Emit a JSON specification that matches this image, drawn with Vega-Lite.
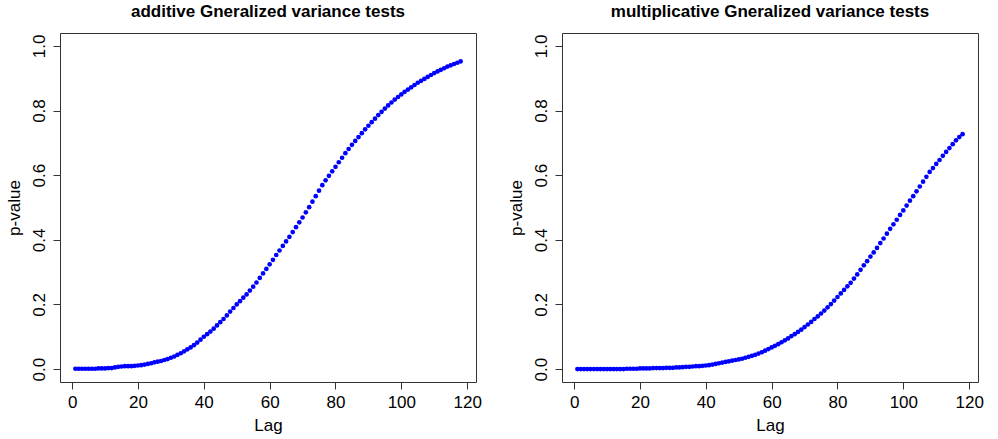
{
  "$schema": "https://vega.github.io/schema/vega-lite/v6.json",
  "background": "white",
  "padding": {"left": 4, "top": 2, "right": 5, "bottom": 4},
  "bounds": "flush",
  "spacing": 86,
  "config": {
    "font": "Liberation Sans",
    "view": {"stroke": "#333333", "strokeWidth": 1},
    "title": {"fontSize": 17, "fontWeight": "bold", "color": "black", "anchor": "middle", "offset": 12, "font": "Liberation Sans"},
    "axis": {
      "domain": false, "grid": false, "tickSize": 7, "tickColor": "#333333",
      "labelColor": "black", "labelFontSize": 17, "labelFont": "Liberation Sans",
      "titleColor": "black", "titleFontSize": 17, "titleFontWeight": "normal", "titleFont": "Liberation Sans",
      "labelPadding": 5, "titlePadding": 7
    },
    "axisY": {"labelAngle": 270, "labelAlign": "center", "labelBaseline": "bottom"}
  },
  "datasets": {
    "additive": [
      {"lag":1,"p":0.001},{"lag":2,"p":0.001},{"lag":3,"p":0.001},{"lag":4,"p":0.001},{"lag":5,"p":0.001},{"lag":6,"p":0.001},{"lag":7,"p":0.001},{"lag":8,"p":0.002},{"lag":9,"p":0.002},{"lag":10,"p":0.002},
      {"lag":11,"p":0.003},{"lag":12,"p":0.003},{"lag":13,"p":0.005},{"lag":14,"p":0.007},{"lag":15,"p":0.008},{"lag":16,"p":0.009},{"lag":17,"p":0.009},{"lag":18,"p":0.009},{"lag":19,"p":0.010},{"lag":20,"p":0.011},
      {"lag":21,"p":0.012},{"lag":22,"p":0.014},{"lag":23,"p":0.016},{"lag":24,"p":0.018},{"lag":25,"p":0.021},{"lag":26,"p":0.023},{"lag":27,"p":0.025},{"lag":28,"p":0.028},{"lag":29,"p":0.031},{"lag":30,"p":0.035},
      {"lag":31,"p":0.039},{"lag":32,"p":0.044},{"lag":33,"p":0.049},{"lag":34,"p":0.055},{"lag":35,"p":0.061},{"lag":36,"p":0.067},{"lag":37,"p":0.074},{"lag":38,"p":0.082},{"lag":39,"p":0.091},{"lag":40,"p":0.100},
      {"lag":41,"p":0.108},{"lag":42,"p":0.116},{"lag":43,"p":0.125},{"lag":44,"p":0.135},{"lag":45,"p":0.145},{"lag":46,"p":0.155},{"lag":47,"p":0.166},{"lag":48,"p":0.178},{"lag":49,"p":0.189},{"lag":50,"p":0.200},
      {"lag":51,"p":0.210},{"lag":52,"p":0.221},{"lag":53,"p":0.231},{"lag":54,"p":0.243},{"lag":55,"p":0.255},{"lag":56,"p":0.268},{"lag":57,"p":0.282},{"lag":58,"p":0.296},{"lag":59,"p":0.310},{"lag":60,"p":0.324},
      {"lag":61,"p":0.338},{"lag":62,"p":0.353},{"lag":63,"p":0.367},{"lag":64,"p":0.381},{"lag":65,"p":0.395},{"lag":66,"p":0.409},{"lag":67,"p":0.424},{"lag":68,"p":0.439},{"lag":69,"p":0.454},{"lag":70,"p":0.469},
      {"lag":71,"p":0.485},{"lag":72,"p":0.501},{"lag":73,"p":0.518},{"lag":74,"p":0.535},{"lag":75,"p":0.552},{"lag":76,"p":0.569},{"lag":77,"p":0.584},{"lag":78,"p":0.598},{"lag":79,"p":0.612},{"lag":80,"p":0.626},
      {"lag":81,"p":0.640},{"lag":82,"p":0.654},{"lag":83,"p":0.668},{"lag":84,"p":0.681},{"lag":85,"p":0.694},{"lag":86,"p":0.706},{"lag":87,"p":0.718},{"lag":88,"p":0.730},{"lag":89,"p":0.742},{"lag":90,"p":0.753},
      {"lag":91,"p":0.764},{"lag":92,"p":0.775},{"lag":93,"p":0.786},{"lag":94,"p":0.796},{"lag":95,"p":0.806},{"lag":96,"p":0.816},{"lag":97,"p":0.825},{"lag":98,"p":0.834},{"lag":99,"p":0.842},{"lag":100,"p":0.850},
      {"lag":101,"p":0.858},{"lag":102,"p":0.865},{"lag":103,"p":0.872},{"lag":104,"p":0.879},{"lag":105,"p":0.886},{"lag":106,"p":0.892},{"lag":107,"p":0.898},{"lag":108,"p":0.904},{"lag":109,"p":0.910},{"lag":110,"p":0.916},
      {"lag":111,"p":0.921},{"lag":112,"p":0.926},{"lag":113,"p":0.931},{"lag":114,"p":0.936},{"lag":115,"p":0.940},{"lag":116,"p":0.944},{"lag":117,"p":0.948},{"lag":118,"p":0.952}
    ],
    "multiplicative": [
      {"lag":1,"p":0.000},{"lag":2,"p":0.000},{"lag":3,"p":0.000},{"lag":4,"p":0.000},{"lag":5,"p":0.000},{"lag":6,"p":0.000},{"lag":7,"p":0.000},{"lag":8,"p":0.000},{"lag":9,"p":0.000},{"lag":10,"p":0.000},
      {"lag":11,"p":0.000},{"lag":12,"p":0.000},{"lag":13,"p":0.000},{"lag":14,"p":0.000},{"lag":15,"p":0.000},{"lag":16,"p":0.001},{"lag":17,"p":0.001},{"lag":18,"p":0.001},{"lag":19,"p":0.001},{"lag":20,"p":0.002},
      {"lag":21,"p":0.002},{"lag":22,"p":0.002},{"lag":23,"p":0.002},{"lag":24,"p":0.003},{"lag":25,"p":0.003},{"lag":26,"p":0.003},{"lag":27,"p":0.003},{"lag":28,"p":0.004},{"lag":29,"p":0.004},{"lag":30,"p":0.004},
      {"lag":31,"p":0.005},{"lag":32,"p":0.005},{"lag":33,"p":0.006},{"lag":34,"p":0.007},{"lag":35,"p":0.007},{"lag":36,"p":0.008},{"lag":37,"p":0.009},{"lag":38,"p":0.009},{"lag":39,"p":0.010},{"lag":40,"p":0.011},
      {"lag":41,"p":0.012},{"lag":42,"p":0.014},{"lag":43,"p":0.016},{"lag":44,"p":0.018},{"lag":45,"p":0.020},{"lag":46,"p":0.022},{"lag":47,"p":0.024},{"lag":48,"p":0.026},{"lag":49,"p":0.028},{"lag":50,"p":0.030},
      {"lag":51,"p":0.032},{"lag":52,"p":0.035},{"lag":53,"p":0.038},{"lag":54,"p":0.041},{"lag":55,"p":0.044},{"lag":56,"p":0.048},{"lag":57,"p":0.052},{"lag":58,"p":0.057},{"lag":59,"p":0.062},{"lag":60,"p":0.067},
      {"lag":61,"p":0.072},{"lag":62,"p":0.077},{"lag":63,"p":0.083},{"lag":64,"p":0.089},{"lag":65,"p":0.095},{"lag":66,"p":0.102},{"lag":67,"p":0.108},{"lag":68,"p":0.115},{"lag":69,"p":0.122},{"lag":70,"p":0.130},
      {"lag":71,"p":0.138},{"lag":72,"p":0.146},{"lag":73,"p":0.155},{"lag":74,"p":0.163},{"lag":75,"p":0.172},{"lag":76,"p":0.181},{"lag":77,"p":0.191},{"lag":78,"p":0.201},{"lag":79,"p":0.212},{"lag":80,"p":0.223},
      {"lag":81,"p":0.234},{"lag":82,"p":0.245},{"lag":83,"p":0.256},{"lag":84,"p":0.267},{"lag":85,"p":0.280},{"lag":86,"p":0.293},{"lag":87,"p":0.307},{"lag":88,"p":0.321},{"lag":89,"p":0.334},{"lag":90,"p":0.348},
      {"lag":91,"p":0.361},{"lag":92,"p":0.375},{"lag":93,"p":0.390},{"lag":94,"p":0.404},{"lag":95,"p":0.419},{"lag":96,"p":0.434},{"lag":97,"p":0.448},{"lag":98,"p":0.462},{"lag":99,"p":0.477},{"lag":100,"p":0.491},
      {"lag":101,"p":0.506},{"lag":102,"p":0.521},{"lag":103,"p":0.535},{"lag":104,"p":0.550},{"lag":105,"p":0.565},{"lag":106,"p":0.580},{"lag":107,"p":0.595},{"lag":108,"p":0.610},{"lag":109,"p":0.622},{"lag":110,"p":0.635},
      {"lag":111,"p":0.647},{"lag":112,"p":0.660},{"lag":113,"p":0.672},{"lag":114,"p":0.684},{"lag":115,"p":0.696},{"lag":116,"p":0.708},{"lag":117,"p":0.718},{"lag":118,"p":0.727}
    ]
  },
  "hconcat": [
    {
      "title": "additive Gneralized variance tests",
      "width": 416,
      "height": 349,
      "data": {"name": "additive"},
      "mark": {"type": "circle", "color": "#0000ff", "size": 22, "opacity": 1},
      "encoding": {
        "x": {"field": "lag", "type": "quantitative", "scale": {"domain": [-3.68, 122.68], "nice": false, "zero": false}, "axis": {"values": [0, 20, 40, 60, 80, 100, 120], "title": "Lag"}},
        "y": {"field": "p", "type": "quantitative", "scale": {"domain": [-0.04, 1.04], "nice": false, "zero": false}, "axis": {"values": [0, 0.2, 0.4, 0.6, 0.8, 1.0], "format": ".1f", "title": "p-value"}}
      }
    },
    {
      "title": "multiplicative Gneralized variance tests",
      "width": 416,
      "height": 349,
      "data": {"name": "multiplicative"},
      "mark": {"type": "circle", "color": "#0000ff", "size": 22, "opacity": 1},
      "encoding": {
        "x": {"field": "lag", "type": "quantitative", "scale": {"domain": [-3.68, 122.68], "nice": false, "zero": false}, "axis": {"values": [0, 20, 40, 60, 80, 100, 120], "title": "Lag"}},
        "y": {"field": "p", "type": "quantitative", "scale": {"domain": [-0.04, 1.04], "nice": false, "zero": false}, "axis": {"values": [0, 0.2, 0.4, 0.6, 0.8, 1.0], "format": ".1f", "title": "p-value"}}
      }
    }
  ]
}
